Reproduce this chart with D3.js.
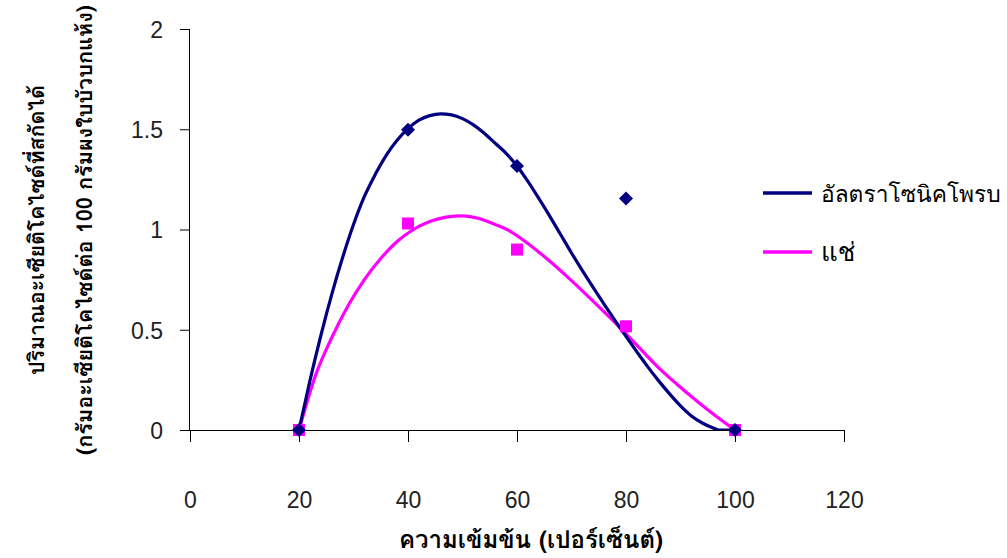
<!DOCTYPE html>
<html>
<head>
<meta charset="utf-8">
<script src="https://cdn.jsdelivr.net/npm/d3@7"></script>
<style>
  html, body { margin: 0; padding: 0; background: #fff; }
  svg { display: block; }
  .tick-label { font-family: "Liberation Sans Narrow", "Liberation Sans", Arial, sans-serif; font-size: 23px; fill: #222; }
  .thai { font-family: "Angsana New", "Norasi", "Loma", "Garuda", "Noto Serif Thai", "Noto Sans Thai", serif; fill: #000; }
</style>
</head>
<body>
<svg id="chart" width="1007" height="558"></svg>
<script>
// Concentration (%) and extracted asiaticoside, measured points
const concentration = [20, 40, 60, 80, 100];
const ultrasonicValues = [0, 1.497, 1.317, 1.155, 0];
const soakValues = [0, 1.03, 0.9, 0.517, 0];

// Fitted trend curves, sampled along x
const ultrasonicTrendX = [20, 22, 24, 26, 28, 30, 32, 34, 36, 38, 40, 42, 44, 46, 48, 50, 52, 54, 56, 58, 60,
  62, 64, 66, 68, 70, 72, 74, 76, 78, 80, 82, 84, 86, 88, 90, 92, 94, 96, 97, 100];
const ultrasonicTrendY = [0, 0.245, 0.47, 0.675, 0.86, 1.025, 1.165, 1.275, 1.37, 1.445, 1.503, 1.545, 1.568, 1.577, 1.572, 1.553, 1.522, 1.48, 1.43, 1.38, 1.317,
  1.24, 1.155, 1.067, 0.975, 0.883, 0.795, 0.71, 0.627, 0.546, 0.467, 0.39, 0.315, 0.245, 0.18, 0.12, 0.07, 0.035, 0.01, 0, 0];
const soakTrendX = [20, 23, 26, 29, 32, 35, 38, 41, 44, 47, 50, 53, 56, 58.7, 61, 65, 70, 75, 80, 86, 91, 96, 100];
const soakTrendY = [0, 0.27, 0.46, 0.62, 0.75, 0.855, 0.94, 1.0, 1.04, 1.062, 1.068, 1.055, 1.025, 0.992, 0.95, 0.865, 0.745, 0.615, 0.48, 0.31, 0.19, 0.08, 0];

const xTicks = [0, 20, 40, 60, 80, 100, 120];
const yTicks = [0, 0.5, 1, 1.5, 2];

const seriesNames = ["อัลตราโซนิคโพรบ", "แช่"];
const seriesColors = ["#000080", "#ff00ff"];
const xTitle = "ความเข้มข้น (เปอร์เซ็นต์)";
const yTitleLines = ["ปริมาณอะเซียติโคไซด์ที่สกัดได้", "(กรัมอะเซียติโคไซด์ต่อ 100 กรัมผงใบบัวบกแห้ง)"];

const svg = d3.select("#chart");
const x = d3.scaleLinear().domain([0, 120]).range([190, 844]);
const y = d3.scaleLinear().domain([0, 2]).range([430, 29]);

// Shrink a text's font so it fits the given width
function fitText(sel, width, maxSize) {
  sel.attr("font-size", maxSize);
  const w = sel.node().getComputedTextLength();
  if (w > width) sel.attr("font-size", maxSize * width / w);
  return sel;
}

// Clip region for the trend curves
svg.append("clipPath").attr("id", "plot-clip")
  .append("rect").attr("x", 190).attr("y", 29).attr("width", 654).attr("height", 401);

// Y axis
const yAxis = svg.append("g").attr("transform", `translate(${x(0)},0)`)
  .call(d3.axisLeft(y).tickValues(yTicks).tickSize(10).tickPadding(17).tickFormat(d3.format("")));
yAxis.select(".domain").attr("stroke", "#000").attr("d", `M-0.5,${y(2)}V${y(0)}`);
yAxis.selectAll(".tick line").attr("stroke", "#000");
yAxis.selectAll(".tick text").attr("class", "tick-label").attr("font-size", null).attr("font-family", null)
  .attr("dy", "0.36em");

// X axis along y = 0, labels dropped below
const xAxis = svg.append("g").attr("transform", `translate(0,${y(0)})`)
  .call(d3.axisBottom(x).tickValues(xTicks).tickSize(12).tickPadding(0).tickFormat(d3.format("")));
xAxis.select(".domain").attr("stroke", "#000").attr("d", `M${x(0)},0.5H${x(120)}`);
xAxis.selectAll(".tick line").attr("stroke", "#000");
xAxis.selectAll(".tick text").attr("class", "tick-label").attr("font-size", null).attr("font-family", null)
  .attr("y", 78).attr("dy", "0");

// Trend curves
const curveLine = d3.line().x(d => x(d[0])).y(d => y(d[1])).curve(d3.curveMonotoneX);
const trends = [
  d3.zip(ultrasonicTrendX, ultrasonicTrendY),
  d3.zip(soakTrendX, soakTrendY)
];
const curves = svg.append("g").attr("clip-path", "url(#plot-clip)");
// draw the soak curve first so the ultrasonic curve sits on top
[1, 0].forEach(i => {
  curves.append("path").datum(trends[i])
    .attr("fill", "none").attr("stroke", seriesColors[i]).attr("stroke-width", 3.2)
    .attr("stroke-linejoin", "round")
    .attr("d", curveLine);
});

// Markers
svg.append("g").selectAll("rect").data(d3.zip(concentration, soakValues)).join("rect")
  .attr("x", d => x(d[0]) - 6).attr("y", d => y(d[1]) - 6)
  .attr("width", 12).attr("height", 12).attr("fill", seriesColors[1]);
svg.append("g").selectAll("path").data(d3.zip(concentration, ultrasonicValues)).join("path")
  .attr("transform", d => `translate(${x(d[0])},${y(d[1])})`)
  .attr("d", "M0,-7L7,0L0,7L-7,0Z").attr("fill", seriesColors[0]);

// Legend
const legendY = [193, 252];
seriesNames.forEach((name, i) => {
  svg.append("line").attr("x1", 763).attr("x2", 812).attr("y1", legendY[i]).attr("y2", legendY[i])
    .attr("stroke", seriesColors[i]).attr("stroke-width", 3.5);
  const t = svg.append("text").attr("class", "thai").attr("x", 821).attr("y", legendY[i] + 9).text(name);
  fitText(t, 180, 26);
});

// Axis titles
fitText(svg.append("text").attr("class", "thai").attr("x", 531).attr("y", 548)
  .attr("text-anchor", "middle").attr("font-weight", "bold").text(xTitle), 268, 24);
const yTitleX = [44, 92];
const yTitleWidth = [290, 450];
yTitleLines.forEach((line, i) => {
  const t = svg.append("text").attr("class", "thai")
    .attr("transform", `translate(${yTitleX[i]},230) rotate(-90)`)
    .attr("text-anchor", "middle").attr("font-weight", "bold").text(line);
  fitText(t, yTitleWidth[i], 24);
});
</script>
</body>
</html>
